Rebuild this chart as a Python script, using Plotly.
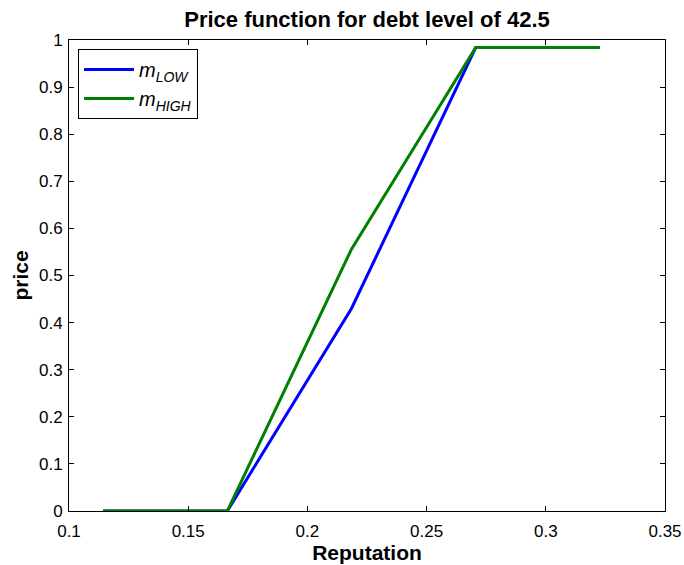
import plotly.graph_objects as go

# Reputation grid and price schedules for each type
reputation = [0.1143, 0.1664, 0.2185, 0.2706, 0.3227]
price_low = [0.0, 0.0, 0.430, 0.984, 0.984]
price_high = [0.0, 0.0, 0.556, 0.984, 0.984]

x_ticks = [0.1, 0.15, 0.2, 0.25, 0.3, 0.35]
x_tick_text = ["0.1", "0.15", "0.2", "0.25", "0.3", "0.35"]
y_ticks = [0, 0.1, 0.2, 0.3, 0.4, 0.5, 0.6, 0.7, 0.8, 0.9, 1]
y_tick_text = ["0", "0.1", "0.2", "0.3", "0.4", "0.5", "0.6", "0.7", "0.8", "0.9", "1"]

FONT = "Liberation Sans, Arial, sans-serif"
W, H = 684, 565
L, R, T, B = 69, 19, 40, 54

fig = go.Figure()
fig.add_trace(go.Scatter(x=reputation, y=price_low, mode="lines",
                         line=dict(color="#0000ff", width=3),
                         name="<i>m<sub>LOW</sub></i>"))
fig.add_trace(go.Scatter(x=reputation, y=price_high, mode="lines",
                         line=dict(color="#008000", width=3),
                         name="<i>m<sub>HIGH</sub></i>"))

axis_common = dict(
    showgrid=False, zeroline=False, showline=True, linecolor="black",
    linewidth=1, mirror="ticks", ticks="inside", ticklen=5, tickcolor="black",
    tickfont=dict(family=FONT, size=17, color="black"), automargin=False,
)

fig.update_layout(
    width=W, height=H,
    margin=dict(l=L, r=R, t=T, b=B),
    paper_bgcolor="white", plot_bgcolor="white",
    title=dict(text="<b>Price function for debt level of 42.5</b>",
               x=(L + (W - L - R) / 2) / W, xanchor="center",
               y=1 - 19 / H, yanchor="middle",
               font=dict(family=FONT, size=22, color="black")),
    xaxis=dict(range=[0.1, 0.35], tickvals=x_ticks, ticktext=x_tick_text,
               ticklabelstandoff=5,
               title=dict(text="<b>Reputation</b>", standoff=2,
                          font=dict(family=FONT, size=21, color="black")),
               **axis_common),
    yaxis=dict(range=[0, 1], tickvals=y_ticks, ticktext=y_tick_text,
               ticklabelstandoff=2,
               title=dict(text="<b>price</b>", standoff=4,
                          font=dict(family=FONT, size=21, color="black")),
               **axis_common),
    legend=dict(x=(78 - L) / (W - L - R), y=1 - (49 - T) / (H - T - B),
                xanchor="left", yanchor="top",
                bgcolor="white", bordercolor="black", borderwidth=1,
                font=dict(family=FONT, size=20, color="black"),
                itemwidth=50, tracegroupgap=0),
    showlegend=True,
)

fig.write_html("out.html")
